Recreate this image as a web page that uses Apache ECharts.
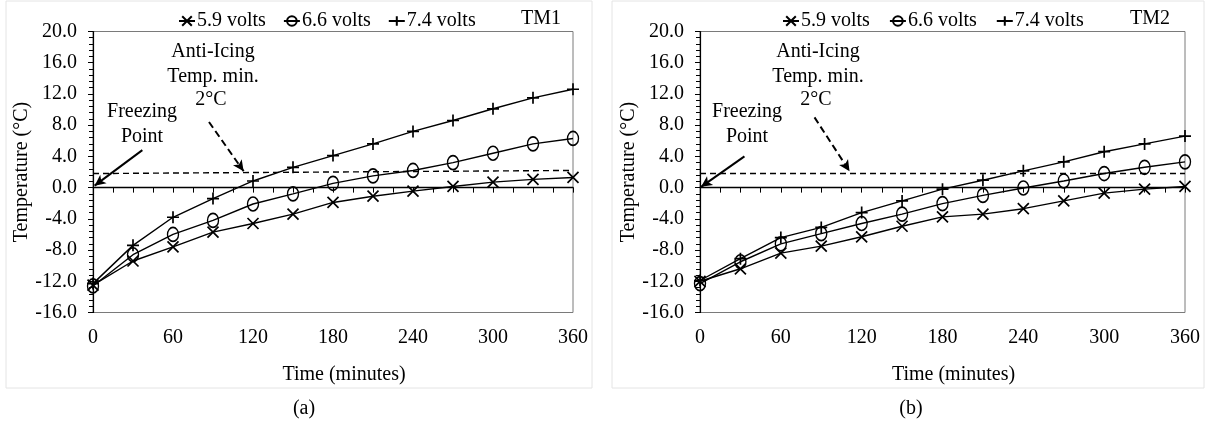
<!DOCTYPE html>
<html>
<head>
<meta charset="utf-8">
<script src="https://cdn.jsdelivr.net/npm/echarts@6/dist/echarts.min.js"></script>
<style>
html,body{margin:0;padding:0;background:#fff;}
#chart{width:1206px;height:423px;}
</style>
</head>
<body>
<div id="chart"></div>
<script>
// ---------- DATA ----------
const minutes = [0, 30, 60, 90, 120, 150, 180, 210, 240, 270, 300, 330, 360];
const seriesNames = ['5.9 volts', '6.6 volts', '7.4 volts'];
const xTicks = [0, 60, 120, 180, 240, 300, 360];
const yTicks = [-16, -12, -8, -4, 0, 4, 8, 12, 16, 20];

// TM1 (a)
const tm1_59 = [-12.5, -9.4, -7.6, -5.7, -4.6, -3.4, -1.9, -1.1, -0.45, 0.15, 0.7, 1.05, 1.3];
const tm1_66 = [-12.6, -8.6, -6.0, -4.2, -2.1, -0.8, 0.55, 1.5, 2.2, 3.2, 4.4, 5.6, 6.3];
const tm1_74 = [-12.3, -7.4, -3.8, -1.4, 0.85, 2.6, 4.1, 5.6, 7.2, 8.6, 10.1, 11.5, 12.6];
// TM2 (b)
const tm2_59 = [-12.0, -10.4, -8.4, -7.5, -6.3, -4.95, -3.75, -3.4, -2.7, -1.7, -0.7, -0.2, 0.15];
const tm2_66 = [-12.3, -9.5, -7.2, -5.9, -4.6, -3.4, -2.05, -1.0, -0.05, 0.85, 1.8, 2.6, 3.3];
const tm2_74 = [-11.9, -9.1, -6.4, -5.1, -3.2, -1.7, -0.2, 0.95, 2.15, 3.3, 4.6, 5.6, 6.6];

// Anti-icing threshold line (start, end values as drawn)
const thresholdTM1 = [1.8, 2.2];
const thresholdTM2 = [1.9, 1.9];

// ---------- STYLE ----------
const FONT = 'Liberation Serif';
const FS = 20;
const black = '#000';

const symCross = 'path://M0 0 L10 10 M10 0 L0 10';
const symPlus = 'path://M5 0 L5 10 M0 5 L10 5';

function pairs(arr) { return minutes.map((m, i) => [m, arr[i]]); }

function makeSeries(name, data, gridIdx, kind) {
  const s = {
    name: name,
    type: 'line',
    xAxisIndex: gridIdx * 2,
    yAxisIndex: gridIdx,
    data: pairs(data),
    showAllSymbol: true,
    lineStyle: { color: black, width: 1.4 },
    emphasis: { disabled: true },
    silent: true,
    z: 3
  };
  if (kind === 'cross') {
    s.symbol = symCross; s.symbolSize = 11;
    s.itemStyle = { color: black, borderColor: black, borderWidth: 1.7 };
  } else if (kind === 'circle') {
    s.symbol = 'circle'; s.symbolSize = [11, 14];
    s.itemStyle = { color: 'rgba(0,0,0,0)', borderColor: black, borderWidth: 1.5 };
  } else {
    s.symbol = symPlus; s.symbolSize = 12;
    s.itemStyle = { color: black, borderColor: black, borderWidth: 1.7 };
  }
  return s;
}

function annotLines(thr, dashFrom, dashTo, solidFrom, solidTo) {
  return {
    silent: true,
    animation: false,
    label: { show: false },
    symbol: ['none', 'none'],
    data: [
      [
        { coord: [0, thr[0]], symbol: 'none', lineStyle: { type: [6, 4], color: black, width: 1.4 } },
        { coord: [360, thr[1]], symbol: 'none' }
      ],
      [
        { coord: dashFrom, symbol: 'none', lineStyle: { type: [7, 4], color: black, width: 2 } },
        { coord: dashTo, symbol: 'arrow', symbolSize: [8, 11] }
      ],
      [
        { coord: solidFrom, symbol: 'none', lineStyle: { type: 'solid', color: black, width: 2 } },
        { coord: solidTo, symbol: 'arrow', symbolSize: [8, 11] }
      ]
    ]
  };
}

const grids = [
  { left: 93, top: 31.5, width: 480, height: 281 },
  { left: 700, top: 31.5, width: 485, height: 281 }
];

const xAxes = [];
const yAxes = [];
grids.forEach((g, gi) => {
  // bottom axis carrying the labels
  xAxes.push({
    gridIndex: gi, type: 'value', min: xTicks[0], max: xTicks[xTicks.length - 1], interval: 60,
    position: 'bottom',
    name: 'Time (minutes)', nameLocation: 'middle', nameGap: 52,
    nameTextStyle: { fontFamily: FONT, fontSize: FS, color: black, padding: [0, 0, 0, 22] },
    axisLine: { show: false, onZero: false },
    axisTick: { show: false },
    axisLabel: { margin: 15, fontFamily: FONT, fontSize: FS, color: black },
    splitLine: { show: false }
  });
  // zero line with ticks
  xAxes.push({
    gridIndex: gi, type: 'value', min: xTicks[0], max: xTicks[xTicks.length - 1], interval: 60,
    position: 'top',
    axisLine: { show: true, onZero: true, lineStyle: { color: black, width: 1.4 } },
    axisTick: { show: true, inside: true, length: 5, lineStyle: { color: black, width: 1 } },
    minorTick: { show: true, splitNumber: 4, length: 5, lineStyle: { color: black, width: 1 } },
    axisLabel: { show: false },
    splitLine: { show: false }
  });
  yAxes.push({
    gridIndex: gi, type: 'value', min: yTicks[0], max: yTicks[yTicks.length - 1], interval: 4,
    name: 'Temperature (°C)', nameLocation: 'middle', nameGap: 57, nameRotate: 90,
    nameTextStyle: { fontFamily: FONT, fontSize: FS, color: black },
    axisLine: { show: true, onZero: false, lineStyle: { color: black, width: 1.2 } },
    axisTick: { show: true, length: 5, lineStyle: { color: black, width: 1 } },
    minorTick: { show: true, splitNumber: 5, length: 4, lineStyle: { color: black, width: 1 } },
    axisLabel: { margin: 16, fontFamily: FONT, fontSize: FS, color: black, formatter: v => v.toFixed(1) },
    splitLine: { show: false }
  });
});

const s1 = makeSeries(seriesNames[0], tm1_59, 0, 'cross');
s1.markLine = annotLines(thresholdTM1, [87, 8.4], [113, 2.1], [37, 4.8], [1.2, 0.25]);
const s4 = makeSeries(seriesNames[0], tm2_59, 1, 'cross');
s4.markLine = annotLines(thresholdTM2, [85, 9.0], [111, 2.1], [33, 4.0], [0.8, 0.1]);

const series = [
  s1,
  makeSeries(seriesNames[1], tm1_66, 0, 'circle'),
  makeSeries(seriesNames[2], tm1_74, 0, 'plus'),
  s4,
  makeSeries(seriesNames[1], tm2_66, 1, 'circle'),
  makeSeries(seriesNames[2], tm2_74, 1, 'plus')
];

function legendAt(left, gap) {
  return {
    left: left, top: 6, orient: 'horizontal',
    itemWidth: 16, itemHeight: 12, itemGap: gap,
    selectedMode: false,
    textStyle: { fontFamily: FONT, fontSize: FS, color: black, padding: [0, 0, 0, -3] },
    data: seriesNames.slice()
  };
}

function txt(text, x, y, extra) {
  return Object.assign({
    type: 'text', x: x, y: y, silent: true,
    style: { text: text, font: FS + 'px "' + FONT + '"', fill: black, align: 'center', verticalAlign: 'middle' }
  }, extra || {});
}

const graphic = [
  { type: 'rect', silent: true, shape: { x: 6, y: 1, width: 586, height: 387 }, style: { fill: 'none', stroke: '#e4e4e4', lineWidth: 1 } },
  { type: 'rect', silent: true, shape: { x: 612, y: 1, width: 592, height: 387 }, style: { fill: 'none', stroke: '#e4e4e4', lineWidth: 1 } },
  txt('TM1', 541, 19),
  txt('TM2', 1150, 19),
  txt('Anti-Icing', 213, 52), txt('Temp. min.', 213, 77), txt('2°C', 211, 100),
  txt('Freezing', 142, 112), txt('Point', 142, 137),
  txt('Anti-Icing', 818, 52), txt('Temp. min.', 818, 77), txt('2°C', 816, 100),
  txt('Freezing', 747, 112), txt('Point', 747, 137),
  txt('(a)', 304, 409),
  txt('(b)', 911, 409)
];

const chart = echarts.init(document.getElementById('chart'), null, { renderer: 'canvas' });
chart.setOption({
  animation: false,
  backgroundColor: '#fff',
  grid: grids.map(g => Object.assign({ show: true, borderColor: '#7a7a7a', borderWidth: 1, backgroundColor: 'transparent' }, g)),
  xAxis: xAxes,
  yAxis: yAxes,
  legend: [legendAt(173, 17), legendAt(777, 19)],
  graphic: graphic,
  series: series
});
</script>
</body>
</html>
